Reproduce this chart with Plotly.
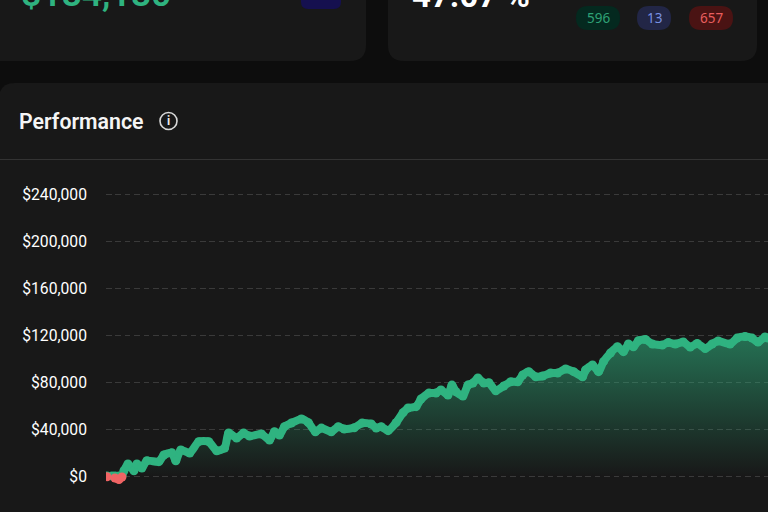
import plotly.graph_objects as go

W, H = 768, 512
# Data
trade_no = [0,5,8,12,15,17,21,27,30,35,40,52,57,65,69,74,83,92,102,110,118,122,130,137,143,155,163,168,173,178,185,195,202,209,215,225,232,238,248,256,265,270,275,282,290,297,302,310,315,323,330,335,342,346,350,357,362,367,372,378,383,390,398,405,412,417,423,430,437,445,452,460,468,477,480,487,493,498,505,512,518,523,528,533,540,547,557,563,570,578,585,592,600,607,613,625,632,640,647,653,660,663]
equity = [-600,0,-1700,-3000,-850,4500,10200,4500,10200,6800,13000,12200,17900,19800,13000,22100,19600,29200,29200,21500,23800,36600,32300,36600,34000,35700,30600,37700,34900,42000,45100,48500,45400,37700,40800,37700,42000,40000,41100,45100,44300,40800,42000,38600,45400,53900,57900,59000,65500,70600,70600,73200,68900,77400,71700,68100,77400,79100,83400,79100,79400,72600,76600,80200,80200,86000,88800,84500,85100,87700,87700,91100,88800,84500,90200,94500,88800,97300,104700,110000,105800,112300,110000,115100,116200,112300,111500,113600,112300,114000,109800,112800,108500,112300,114900,112300,117400,118700,117400,114000,118300,117400]
y_ticks_step = 40000
badge_labels = ["596","13","657"]
headline_profit = "$184,180"
headline_rate = "47.07 %"
title = "Performance"

BG, CARD, GREEN, RED = "#0d0d0d", "#181818", "#2fb380", "#f06464"
PX = 40000 / 47
ZERO_PX = 476
TOP_PX = 160

def fx(p): return p / W
def fy(p): return 1 - p / H

def rrect(x0, y0, x1, y1, r, fill):
    path = (f"M {fx(x0+r)} {fy(y0)} L {fx(x1-r)} {fy(y0)} "
            f"Q {fx(x1)} {fy(y0)} {fx(x1)} {fy(y0+r)} L {fx(x1)} {fy(y1-r)} "
            f"Q {fx(x1)} {fy(y1)} {fx(x1-r)} {fy(y1)} L {fx(x0+r)} {fy(y1)} "
            f"Q {fx(x0)} {fy(y1)} {fx(x0)} {fy(y1-r)} L {fx(x0)} {fy(y0+r)} "
            f"Q {fx(x0)} {fy(y0)} {fx(x0+r)} {fy(y0)} Z")
    return dict(type="path", xref="paper", yref="paper", path=path, fillcolor=fill,
                line=dict(width=0), layer="below")

def label(text, x, y, size, color, font="Roboto", xanchor="center", weight=400):
    return dict(text=text, x=fx(x), y=fy(y), xref="paper", yref="paper", xanchor=xanchor,
                yanchor="middle", showarrow=False,
                font=dict(family=font, size=size, color=color, weight=weight))

shapes = [
    rrect(-20, -40, 366, 61, 16, CARD),
    rrect(388, -40, 757, 61, 16, CARD),
    rrect(-1, 83, 800, 560, 16, CARD),
    rrect(301, -20, 341, 9, 7, "#15104f"),
    rrect(576, 6, 620, 30, 12, "#04291f"),
    rrect(637, 6, 671, 30, 12, "#222646"),
    rrect(689, 6, 733, 30, 12, "#4a1313"),
    dict(type="line", xref="paper", yref="paper", x0=0, x1=1, y0=fy(159.5), y1=fy(159.5),
         line=dict(color="#333333", width=1), layer="below"),
    dict(type="circle", xref="paper", yref="paper", x0=fx(160), x1=fx(177), y0=fy(112.5), y1=fy(129.5),
         line=dict(color="#d8d8d8", width=1.6), layer="above"),
]
annotations = [
    label(headline_profit, 19, -6, 35.5, GREEN, xanchor="left", weight=600),
    label(headline_rate, 410, -5, 33, "#ffffff", xanchor="left", weight=700),
    label(badge_labels[0], 598, 18, 13.5, "#2fa176", font="Noto Sans"),
    label(badge_labels[1], 654, 18, 13.5, "#7890e2", font="Noto Sans"),
    label(badge_labels[2], 711, 18, 13.5, "#e85e5e", font="Noto Sans"),
    label(title, 17, 121, 21.3, "#f5f5f5", xanchor="left", weight=600),
    label("i", 168.5, 121, 12, "#e8e8e8", weight=700),
]

fig = go.Figure()
fig.add_trace(go.Scatter(
    x=trade_no, y=[max(v, 0) for v in equity], mode="lines+markers", fill="tozeroy",
    line=dict(color=GREEN, width=8, shape="spline", smoothing=0.6), marker=dict(color=GREEN, size=9),
    fillgradient=dict(type="vertical", start=120000, stop=0,
                      colorscale=[[0, "rgba(47,179,128,0.58)"], [1, "rgba(47,179,128,0)"]]),
    hoverinfo="skip", showlegend=False))
n_red = 5
fig.add_trace(go.Scatter(
    x=[trade_no[0]], y=[equity[0]], mode="markers",
    marker=dict(color=RED, size=9), hoverinfo="skip", showlegend=False))
fig.add_trace(go.Scatter(
    x=trade_no[2:n_red], y=equity[2:n_red], mode="lines+markers",
    line=dict(color=RED, width=8, shape="spline", smoothing=0.6), marker=dict(color=RED, size=9),
    hoverinfo="skip", showlegend=False))

fig.update_layout(
    width=W, height=H, margin=dict(l=0, r=0, t=0, b=0), autosize=False,
    paper_bgcolor=BG, plot_bgcolor="rgba(0,0,0,0)", shapes=shapes, annotations=annotations,
    xaxis=dict(domain=[106 / W, 1], range=[-1, W - 105], visible=False),
    yaxis=dict(domain=[0, fy(TOP_PX)], range=[-(H - ZERO_PX) * PX, (ZERO_PX - TOP_PX) * PX],
               tickmode="linear", tick0=0, dtick=y_ticks_step, tickprefix="$", tickformat=",",
               tickfont=dict(family="Roboto", size=15.7, color="#ffffff"),
               ticks="", ticklabelstandoff=18, showline=False, zeroline=False,
               showgrid=True, gridcolor="#3a3a3a", griddash="5.5px,3.9px", gridwidth=1),
)
fig.write_html("out.html", config={"displayModeBar": False},
               post_script="document.body.style.margin='0';document.body.style.overflow='hidden';")
